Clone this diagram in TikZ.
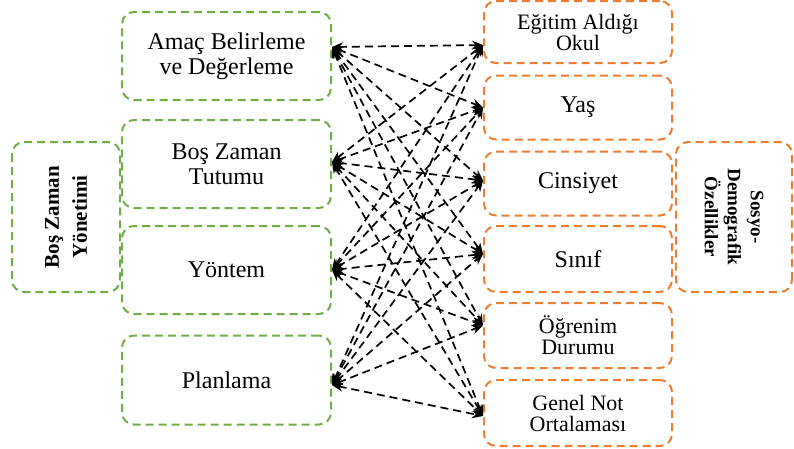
\documentclass[tikz,border=0pt]{standalone}
\usepackage{fontspec}
\setmainfont{Liberation Serif}
\usetikzlibrary{arrows.meta}

\definecolor{kutuyesil}{RGB}{112,173,71}
\definecolor{kututuruncu}{RGB}{237,125,49}

\begin{document}
\begin{tikzpicture}[x=1pt,y=-1pt,
    kutu/.style={line width=2pt,dash pattern=on 8pt off 5pt,rounded corners=12pt,align=center},
    yesil/.style={kutu,draw=kutuyesil},
    turuncu/.style={kutu,draw=kututuruncu},
    solkutu/.style={yesil,minimum width=209pt,minimum height=88pt,font=\fontsize{24}{25}\selectfont},
    sagkutu/.style={turuncu,minimum width=188pt,minimum height=64pt,font=\fontsize{22}{21}\selectfont},
    bag/.style={{Stealth[length=11pt,width=9pt]}-{Stealth[length=11pt,width=9pt]},line width=1.7pt,dash pattern=on 8pt off 5pt}]
    \useasboundingbox (0,0) rectangle (794,448);

    % ana kutular
    \node[yesil,rotate=90,minimum width=150pt,minimum height=108pt,font=\bfseries\fontsize{21}{28}\selectfont] (bzy) at (66,217) {Boş Zaman\\Yönetimi};
    \node[turuncu,rotate=-90,minimum width=150pt,minimum height=116pt,font=\bfseries\fontsize{19}{23}\selectfont] (sdo) at (734,217) {Sosyo-\\Demografik\\Özellikler};

    % boş zaman yönetimi alt boyutları
    \node[solkutu] (amac) at (226.5,56) {Amaç Belirleme\\ve Değerleme};
    \node[solkutu] (tutum) at (226.5,164) {Boş Zaman\\Tutumu};
    \node[solkutu] (yontem) at (226.5,270) {Yöntem};
    \node[solkutu,minimum height=89pt] (plan) at (226.5,380) {Planlama};

    % sosyo-demografik değişkenler
    \node[sagkutu,minimum height=62pt] (okul) at (578,32) {Eğitim Aldığı\\Okul};
    \node[sagkutu,font=\fontsize{24}{25}\selectfont] (yas) at (578,107.5) {Yaş};
    \node[sagkutu,font=\fontsize{24}{25}\selectfont] (cins) at (578,183.5) {Cinsiyet};
    \node[sagkutu,minimum height=66pt,font=\fontsize{24}{25}\selectfont] (sinif) at (578,259) {Sınıf};
    \node[sagkutu,minimum height=65pt] (ogren) at (578,335.5) {Öğrenim\\Durumu};
    \node[sagkutu,minimum height=66pt] (gno) at (578,413) {Genel Not\\Ortalaması};

    % ok uçları
    \coordinate (l1) at ([yshift=9pt]amac.east);
    \coordinate (l2) at ([yshift=2pt]tutum.east);
    \coordinate (l3) at (yontem.east);
    \coordinate (l4) at ([yshift=-5pt]plan.east);
    \coordinate (r1) at ([yshift=-13pt]okul.west);
    \coordinate (r2) at (yas.west);
    \coordinate (r3) at ([yshift=3pt]cins.west);
    \coordinate (r4) at ([yshift=5pt]sinif.west);
    \coordinate (r5) at ([yshift=10pt]ogren.west);
    \coordinate (r6) at ([yshift=-3pt]gno.west);

    \foreach \i in {1,...,4}
        \foreach \j in {1,...,6}
            \draw[bag] (l\i) -- (r\j);
\end{tikzpicture}
\end{document}
